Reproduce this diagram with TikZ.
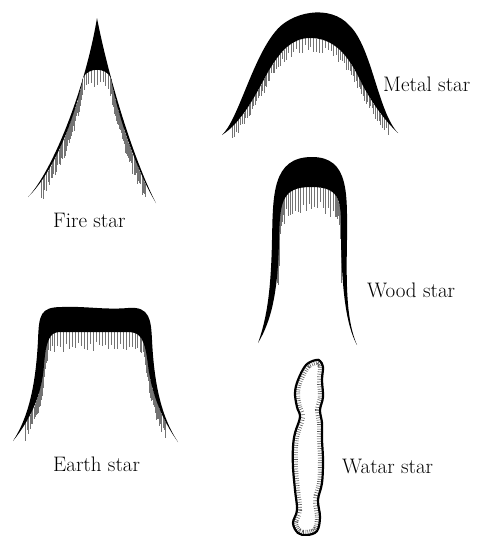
\documentclass[tikz,border=0pt]{standalone}
\usepackage{fontspec}
\usetikzlibrary{decorations.markings}

\tikzset{
  body/.style={fill=black},
  hatchline/.style={draw=black!55, line width=0.9pt},
  % vertical grey strokes hanging below an inner edge
  hatch/.style n args={4}{
    decoration={markings,
      mark=between positions #1 and #2 step #3 with {
        \pgfmathsetmacro\hlen{#4*(0.5+0.5*rnd)}
        \pgftransformresetnontranslations
        \draw[hatchline] (0pt,0pt) -- (0pt,-\hlen pt);}},
    decorate},
  % short strokes just inside an outline (wide dashed line, clipped)
  ticks/.style={draw=black!65, line width=10pt, dash pattern=on 0.6pt off 1.8pt},
  starname/.style={font=\fontsize{21}{25}\selectfont, inner sep=0pt, anchor=base west}
}

\def\waterpath{plot[smooth cycle, tension=0.6] coordinates {
  (316,360) (306,365) (298,380) (295,393) (297,407) (300,417) (295,433)
  (293,447) (293,467) (295,490) (297,510) (293,523) (298,533) (307,535)
  (317,531) (320,517) (318,500) (322,483) (323,460) (322,440) (322,423)
  (320,410) (323,397) (322,380) (323,367) (320,361)}}

\begin{document}
\begin{tikzpicture}[x=1pt,y=-1pt]
\pgfmathsetseed{11}
\useasboundingbox (0,0) rectangle (483,536);

% fire star
\path[hatch={0.07}{0.93}{3pt}{21}] (28,197)
  .. controls (56,170) and (77,110) .. (83,78)
  .. controls (88,67) and (106,67) .. (111,78)
  .. controls (116,110) and (136,170) .. (156,203);
\fill[body] (28,197)
  .. controls (52,172) and (85,90) .. (97,18)
  .. controls (110,85) and (136,165) .. (156,203)
  .. controls (136,170) and (116,110) .. (111,78)
  .. controls (106,67) and (88,67) .. (83,78)
  .. controls (77,110) and (56,170) .. (28,197) -- cycle;
\node[starname] (fire) at (53,227) {Fire star};

% metal star
\path[hatch={0.05}{0.95}{3pt}{14}] (222,135)
  .. controls (242,122) and (255,96) .. (268,72)
  .. controls (278,55) and (290,38) .. (310,38)
  .. controls (334,38) and (348,55) .. (360,80)
  .. controls (370,100) and (384,120) .. (398,133);
\fill[body] (222,135)
  .. controls (238,120) and (252,60) .. (275,32)
  .. controls (290,12) and (330,3) .. (350,26)
  .. controls (372,48) and (378,112) .. (398,133)
  .. controls (384,120) and (370,100) .. (360,80)
  .. controls (348,55) and (334,38) .. (310,38)
  .. controls (290,38) and (278,55) .. (268,72)
  .. controls (255,96) and (242,122) .. (222,135) -- cycle;
\node[starname] (metal) at (383,91) {Metal star};

% wood star
\path[hatch={0.22}{0.78}{2.8pt}{26}] (258,343)
  .. controls (272,320) and (278,290) .. (279,240)
  .. controls (280,203) and (281,187) .. (311,187)
  .. controls (343,187) and (341,203) .. (341,240)
  .. controls (342,290) and (346,325) .. (357,345);
\fill[body] (258,343)
  .. controls (267,318) and (271,290) .. (272,240)
  .. controls (273,195) and (272,157) .. (312,157)
  .. controls (350,157) and (347,195) .. (347,240)
  .. controls (346,290) and (347,322) .. (357,345)
  .. controls (346,325) and (342,290) .. (341,240)
  .. controls (341,203) and (343,187) .. (311,187)
  .. controls (281,187) and (280,203) .. (279,240)
  .. controls (278,290) and (272,320) .. (258,343) -- cycle;
\node[starname] (wood) at (367,297) {Wood star};

% earth star
\path[hatch={0.07}{0.93}{3pt}{20}] (13,441)
  .. controls (30,420) and (42,395) .. (44,365)
  .. controls (46,340) and (50,332) .. (60,332)
  -- (128,332)
  .. controls (141,332) and (145,340) .. (148,365)
  .. controls (151,392) and (162,420) .. (178,442);
\fill[body] (13,441)
  .. controls (30,415) and (36,380) .. (38,340)
  .. controls (39,315) and (40,307) .. (62,307)
  .. controls (85,306) and (105,310) .. (128,308)
  .. controls (150,306) and (151,320) .. (152,340)
  .. controls (154,380) and (160,415) .. (178,442)
  .. controls (162,420) and (151,392) .. (148,365)
  .. controls (145,340) and (141,332) .. (128,332)
  -- (60,332)
  .. controls (50,332) and (46,340) .. (44,365)
  .. controls (42,395) and (30,420) .. (13,441) -- cycle;
\node[starname] (earth) at (53,471) {Earth star};

% water star
\begin{scope}
  \clip \waterpath;
  \draw[ticks] \waterpath;
\end{scope}
\draw[line width=2.2pt, line join=round] \waterpath;
\node[starname] (water) at (342,473) {Watar star};
\end{tikzpicture}
\end{document}
